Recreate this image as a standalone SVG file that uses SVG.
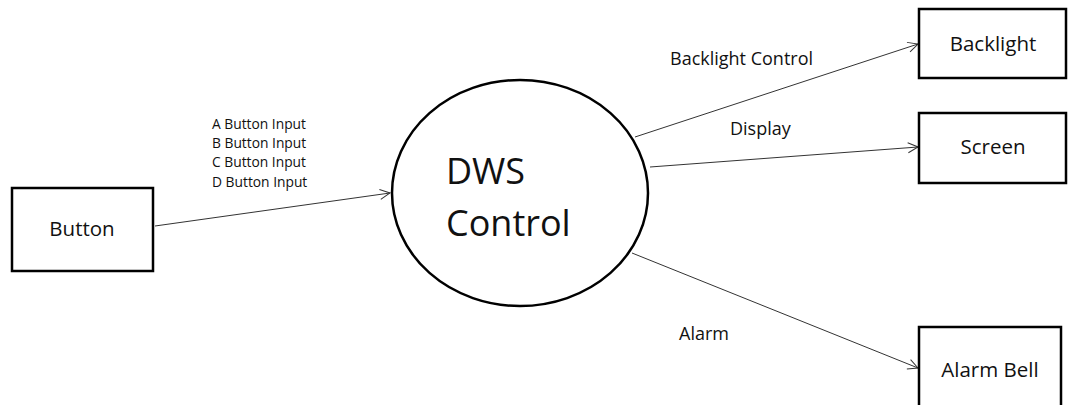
<svg xmlns="http://www.w3.org/2000/svg" width="1072" height="405" viewBox="0 0 1072 405">
<defs>
<style>
.box{fill:#fff;stroke:#000;stroke-width:2.5}
.blabel{font-family:"Open Sans","Liberation Sans",sans-serif;font-size:20.5px;fill:#111;text-anchor:middle}
.elabel{font-family:"Open Sans","Liberation Sans",sans-serif;font-size:18px;fill:#111}
.slabel{font-family:"Open Sans","Liberation Sans",sans-serif;font-size:13.8px;fill:#111}
.conn{stroke:#333;stroke-width:1;fill:none;marker-end:url(#arr)}
</style>
<marker id="arr" viewBox="0 0 12 12" refX="11" refY="6" markerWidth="12" markerHeight="12" markerUnits="userSpaceOnUse" orient="auto">
<path d="M1,1 L11,6 L1,11" fill="none" stroke="#333" stroke-width="1"/>
</marker>
</defs>
<rect width="1072" height="405" fill="#fff"/>
<g id="connectors">
<line class="conn" x1="155" y1="226" x2="390" y2="193"/>
<line class="conn" x1="635" y1="137" x2="918" y2="44"/>
<line class="conn" x1="650" y1="167" x2="918" y2="147"/>
<line class="conn" x1="632" y1="253" x2="918" y2="368"/>
<text class="slabel" x="212" y="129">A Button Input</text>
<text class="slabel" x="212" y="148">B Button Input</text>
<text class="slabel" x="212" y="167">C Button Input</text>
<text class="slabel" x="212" y="187">D Button Input</text>
<text class="elabel" x="670" y="65">Backlight Control</text>
<text class="elabel" x="730" y="135">Display</text>
<text class="elabel" x="679" y="340">Alarm</text>
</g>
<g id="button">
<rect class="box" x="12" y="188" width="141" height="83"/>
<text class="blabel" x="82" y="236">Button</text>
</g>
<g id="dws">
<ellipse cx="520" cy="193" rx="128" ry="113" fill="#fff" stroke="#000" stroke-width="2.5"/>
<text x="446" y="184" font-family="'Open Sans','Liberation Sans',sans-serif" font-size="36" fill="#111">DWS</text>
<text x="446" y="236" font-family="'Open Sans','Liberation Sans',sans-serif" font-size="36" fill="#111">Control</text>
</g>
<g id="backlight">
<rect class="box" x="919" y="9" width="147" height="69"/>
<text class="blabel" x="993" y="51">Backlight</text>
</g>
<g id="screen">
<rect class="box" x="919" y="113" width="147" height="70"/>
<text class="blabel" x="993" y="154">Screen</text>
</g>
<g id="alarmbell">
<rect class="box" x="919" y="327" width="142" height="90"/>
<text class="blabel" x="990" y="377">Alarm Bell</text>
</g>
</svg>
